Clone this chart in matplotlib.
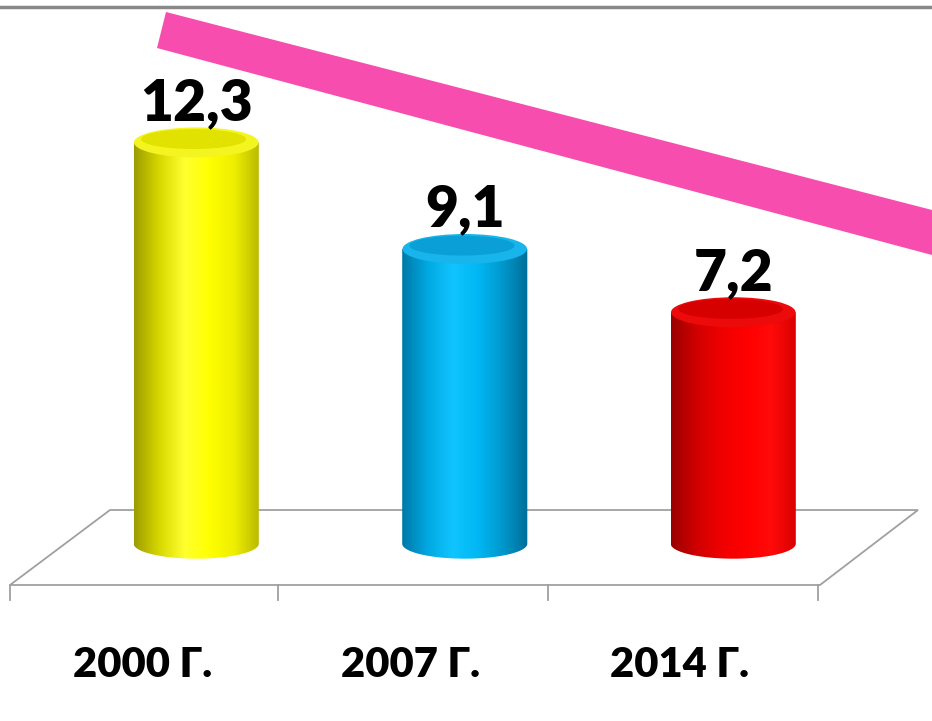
import numpy as np
import matplotlib
matplotlib.use('Agg')
import matplotlib.pyplot as plt
from matplotlib.patches import Polygon, Ellipse
from matplotlib.colors import LinearSegmentedColormap

plt.rcParams['font.family'] = ['Lato', 'DejaVu Sans']

# Данные
years = ['2000 Г.', '2007 Г.', '2014 Г.']
values = [12.3, 9.1, 7.2]
value_labels = ['12,3', '9,1', '7,2']

# Цвета цилиндров: градиент слева направо
body_colors = [
    ['#9c9c00', '#d8d800', '#ffff30', '#ffff00', '#eeee00', '#b8b800'],
    ['#0078a8', '#00a8e0', '#10c4ff', '#00b8f4', '#0098cc', '#006e98'],
    ['#9a0000', '#d00000', '#f00000', '#ff0000', '#ff0a0a', '#d80000'],
]
top_colors = ['#e2e200', '#0a9fd6', '#d60000']
rim_colors = ['#f4f420', '#18b4ec', '#ec0a0a']

fig = plt.figure(figsize=(9.32, 7.21), dpi=100)

# фон в пиксельных координатах: пол, рамка
ax0 = fig.add_axes([0, 0, 1, 1], zorder=1)
ax0.set_xlim(0, 932)
ax0.set_ylim(721, 0)
ax0.axis('off')

ax0.plot([0, 932], [7, 7], color='#888888', lw=2.5)
floor = Polygon([(10, 585), (820, 585), (918, 510), (110, 510)], closed=True,
                fill=False, edgecolor='#a0a0a0', lw=1.3)
ax0.add_patch(floor)
for xt in [10, 278, 548, 818]:
    ax0.plot([xt, xt], [585, 600], color='#a0a0a0', lw=1.3)

# основная ось для столбцов
ax = fig.add_axes([62 / 932, 0, 805.5 / 932, 1], zorder=2)
ax.set_xlim(-0.5, 2.5)
ax.set_ylim(-5.075, 16.577)
ax.patch.set_visible(False)
ax.axis('off')

w = 0.466
eh = 0.9
base = 0.25
t = np.linspace(np.pi, 2 * np.pi, 60)

for i, v in enumerate(values):
    cmap = LinearSegmentedColormap.from_list('c%d' % i, body_colors[i])
    grad = np.linspace(0, 1, 256).reshape(1, -1)
    # контур тела: прямоугольник + нижняя половина эллипса
    xs = i + (w / 2) * np.cos(t)
    ys = base + (eh / 2) * np.sin(t)
    pts = [(i - w / 2, v)] + list(zip(xs, ys)) + [(i + w / 2, v)]
    clip = Polygon(pts, closed=True, facecolor='none', edgecolor='none')
    ax.add_patch(clip)
    im = ax.imshow(grad, cmap=cmap, extent=[i - w / 2, i + w / 2, base - eh, v],
                   aspect='auto', zorder=2)
    im.set_clip_path(clip)
    # верх цилиндра
    ax.add_patch(Ellipse((i, v), w * 0.995, eh, facecolor=rim_colors[i],
                         edgecolor='none', zorder=3))
    ax.add_patch(Ellipse((i - 0.01, v + 0.1), w * 0.84, eh * 0.66,
                         facecolor=top_colors[i], edgecolor='none', zorder=3))
    ax.text(i, v + 0.4, value_labels[i], ha='center', va='bottom',
            fontsize=41, fontweight='heavy', color='black', zorder=4)
    ax.text(i - 0.2, -3.4, years[i], ha='center', va='center',
            fontsize=30, fontweight='heavy', color='black')

# розовая стрелка тренда поверх столбцов
ax3 = fig.add_axes([0, 0, 1, 1], zorder=3)
ax3.set_xlim(0, 932)
ax3.set_ylim(721, 0)
ax3.axis('off')
ax3.add_patch(Polygon([(166, 12), (932, 210), (932, 255), (157, 48)], closed=True,
                      facecolor='#f74dae', edgecolor='none'))

plt.savefig('out.png', dpi=100)
